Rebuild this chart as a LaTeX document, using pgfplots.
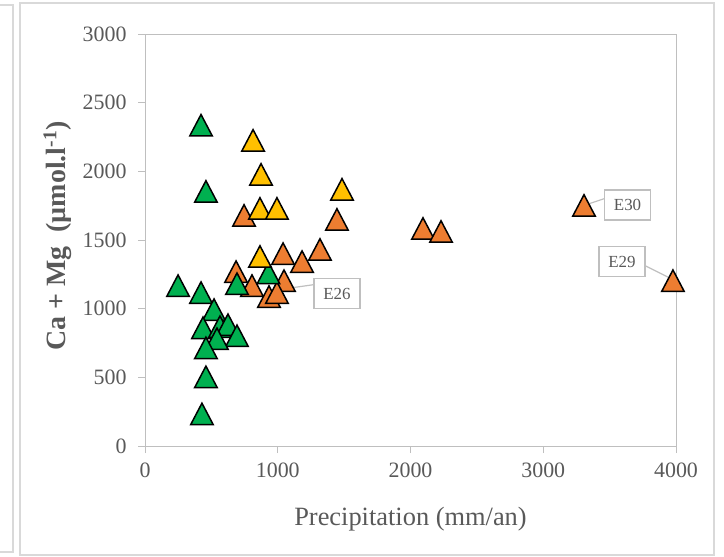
\documentclass[border=0pt]{standalone}
\usepackage{fontspec}
\setmainfont{Liberation Serif}
\usepackage{pgfplots}
\pgfplotsset{compat=1.18}
\definecolor{cgreen}{HTML}{00B050}
\definecolor{cyellow}{HTML}{FFC000}
\definecolor{corange}{HTML}{ED7D31}
\definecolor{txt}{HTML}{595959}
\definecolor{axg}{HTML}{BFBFBF}
\definecolor{brd}{HTML}{D9D9D9}
\begin{document}
\begin{tikzpicture}
\useasboundingbox (0,0) rectangle (724bp,-557bp);
\draw[brd, line width=1.5bp] (20bp,-3bp) rectangle (714bp,-555bp);
\draw[brd, line width=1.5bp] (0,-5bp) -- (13bp,-5bp) -- (13bp,-552bp) -- (0,-552bp);
\begin{axis}[
 at={(145bp,-446bp)}, anchor=south west,
 scale only axis, width=531bp, height=412bp,
 xmin=0, xmax=4000, ymin=0, ymax=3000,
 xtick={0,1000,...,4000}, ytick={0,500,...,3000},
 tick pos=left, tick align=outside, major tick length=7bp,
 every tick/.style={axg, line width=1bp},
 axis line style={axg, line width=1bp},
 /pgf/number format/assume math mode=true,
 /pgf/number format/1000 sep={},
 tick label style={font=\fontsize{22}{24}\selectfont, text=txt},
 yticklabel style={xshift=-8bp},
 xticklabel style={yshift=-6bp},
 clip=false,
 xlabel={Precipitation (mm/an)},
 ylabel={Ca + Mg\ \ (µmol.l\textsuperscript{-1})},
 xlabel style={font=\fontsize{26.5}{28}\selectfont, text=txt, at={(axis description cs:0.5,-0.192)}, anchor=base},
 ylabel style={font=\fontsize{28}{30}\selectfont\bfseries, text=txt, at={(axis description cs:-0.165,0.51)}, anchor=center},
 mymark/.style={only marks, mark=triangle*, mark size=13bp, mark options={fill=#1, draw=black, line width=1.5bp, yshift=-3.6bp, yscale=1.1}},
]
% orange series
\addplot[mymark=corange] coordinates {
(746,1679) (1446,1650) (2094,1584) (2230,1562) (3307,1752) (3977,1204)
(1318,1431) (1040,1401) (1183,1343) (686,1270) (1047,1204) (806,1168)
(934,1088) (994,1117)
};
% green series
\addplot[mymark=cgreen] coordinates {
(422,2336) (459,1854) (249,1168) (422,1117) (693,1182) (930,1260)
(520,993) (437,861) (565,869) (625,883) (693,803) (542,781)
(459,715) (459,504) (429,234)
};
% yellow series
\addplot[mymark=cyellow] coordinates {
(814,2226) (874,1978) (866,1730) (994,1730) (1484,1869) (866,1380)
};
% callouts
\draw[axg, line width=1.2bp] (axis cs:1009,1139) -- (axis cs:1273,1175);
\node[draw=axg, fill=white, line width=1.2bp, minimum width=46bp, minimum height=30bp, inner sep=0pt, text=txt, font=\fontsize{17}{18}\selectfont] at (axis cs:1446,1109) {E26};
\draw[axg, line width=1.2bp] (axis cs:3330,1759) -- (axis cs:3465,1803);
\node[draw=axg, fill=white, line width=1.2bp, minimum width=46bp, minimum height=30bp, inner sep=0pt, text=txt, font=\fontsize{17}{18}\selectfont] at (axis cs:3635,1755) {E30};
\draw[axg, line width=1.2bp] (axis cs:3751,1321) -- (axis cs:3977,1212);
\node[draw=axg, fill=white, line width=1.2bp, minimum width=46bp, minimum height=30bp, inner sep=0pt, text=txt, font=\fontsize{17}{18}\selectfont] at (axis cs:3593,1343) {E29};
\end{axis}
\end{tikzpicture}
\end{document}
